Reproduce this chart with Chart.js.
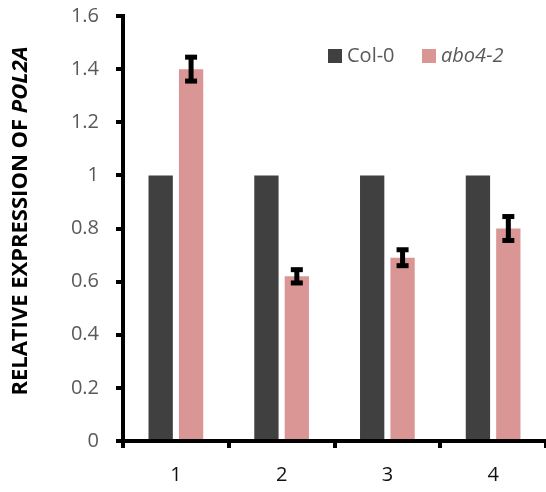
<!DOCTYPE html>
<html>
<head>
<meta charset="utf-8">
<script src="https://cdn.jsdelivr.net/npm/chart.js@4"></script>
<style>
html,body{margin:0;padding:0;background:#fff;}
#wrap{width:546px;height:492px;position:relative;}
</style>
</head>
<body>
<div id="wrap"><canvas id="c" width="546" height="492"></canvas></div>
<script>
const categories = ['1', '2', '3', '4'];
const seriesNames = ['Col-0', 'abo4-2'];
const col0Values = [1, 1, 1, 1];
const abo4Values = [1.40, 0.62, 0.69, 0.80];
const abo4Errors = [0.045, 0.025, 0.03, 0.045];
const yTicks = [0, 0.2, 0.4, 0.6, 0.8, 1, 1.2, 1.4, 1.6];

const FONT = '"Open Sans", "Noto Sans", sans-serif';
const GREY = '#595959';

const errorBarPlugin = {
  id: 'errorBars',
  afterDatasetsDraw(chart) {
    const meta = chart.getDatasetMeta(1);
    const y = chart.scales.y;
    const ctx = chart.ctx;
    ctx.save();
    ctx.fillStyle = '#000';
    meta.data.forEach((el, i) => {
      const v = abo4Values[i], e = abo4Errors[i];
      const top = y.getPixelForValue(v + e);
      const bot = y.getPixelForValue(v - e);
      const x = el.x;
      ctx.fillRect(x - 2.5, top, 5, bot - top);
      ctx.fillRect(x - 6, top - 2.5, 12, 5);
      ctx.fillRect(x - 6, bot - 2.5, 12, 5);
    });
    ctx.restore();
  }
};

const legendPlugin = {
  id: 'customLegend',
  afterDraw(chart) {
    const ctx = chart.ctx;
    ctx.save();
    ctx.textBaseline = 'middle';
    const items = [
      {x: 328, color: chart.data.datasets[0].backgroundColor, label: chart.data.datasets[0].label, italic: false},
      {x: 422, color: chart.data.datasets[1].backgroundColor, label: chart.data.datasets[1].label, italic: true}
    ];
    items.forEach(it => {
      ctx.fillStyle = it.color;
      ctx.fillRect(it.x, 49, 14, 14);
      ctx.fillStyle = GREY;
      ctx.font = (it.italic ? 'italic ' : '') + '20px ' + FONT;
      ctx.fillText(it.label, it.x + 19, 56);
    });
    ctx.restore();
  }
};

const yTitlePlugin = {
  id: 'yTitle',
  afterDraw(chart) {
    const ctx = chart.ctx;
    ctx.save();
    const p1 = 'RELATIVE EXPRESSION OF ';
    const p2 = 'POL2A';
    const f1 = 'bold 22px ' + FONT;
    const f2 = 'italic bold 22px ' + FONT;
    ctx.font = f1; const w1 = ctx.measureText(p1).width;
    ctx.font = f2; const w2 = ctx.measureText(p2).width;
    const total = w1 + w2;
    ctx.translate(21, 221);
    ctx.rotate(-Math.PI / 2);
    ctx.textBaseline = 'middle';
    ctx.textAlign = 'left';
    ctx.fillStyle = '#000';
    ctx.font = f1; ctx.fillText(p1, -total / 2, 0);
    ctx.font = f2; ctx.fillText(p2, -total / 2 + w1, 0);
    ctx.restore();
  }
};

new Chart(document.getElementById('c'), {
  type: 'bar',
  data: {
    labels: categories,
    datasets: [
      {label: seriesNames[0], data: col0Values, backgroundColor: '#404040', barPercentage: 0.8, categoryPercentage: 0.575},
      {label: seriesNames[1], data: abo4Values, backgroundColor: '#DA9694', barPercentage: 0.8, categoryPercentage: 0.575}
    ]
  },
  options: {
    responsive: false,
    animation: false,
    devicePixelRatio: 1,
    layout: {padding: {top: 16, right: 0, left: 0, bottom: 0}},
    plugins: {legend: {display: false}, tooltip: {enabled: false}},
    scales: {
      x: {
        grid: {display: true, drawOnChartArea: false, drawTicks: true, tickLength: 7, color: '#000', lineWidth: 4, offset: true},
        border: {display: true, color: '#000', width: 4},
        ticks: {color: '#111', font: {family: FONT, size: 20}, padding: 15},
        afterFit(s) { s.height = 51; s.paddingLeft = 0; s.paddingRight = 0; }
      },
      y: {
        min: 0, max: 1.6,
        afterBuildTicks(s) { s.ticks = yTicks.map(v => ({value: v})); },
        grid: {display: true, drawOnChartArea: false, drawTicks: true, tickLength: 7, color: '#000', lineWidth: 4},
        border: {display: true, color: '#000', width: 4},
        ticks: {color: GREY, font: {family: FONT, size: 20}, padding: 17, callback: v => String(v)},
        afterFit(s) { s.width = 123; s.paddingTop = 0; s.paddingBottom = 0; }
      }
    }
  },
  plugins: [errorBarPlugin, legendPlugin, yTitlePlugin]
});
</script>
</body>
</html>
